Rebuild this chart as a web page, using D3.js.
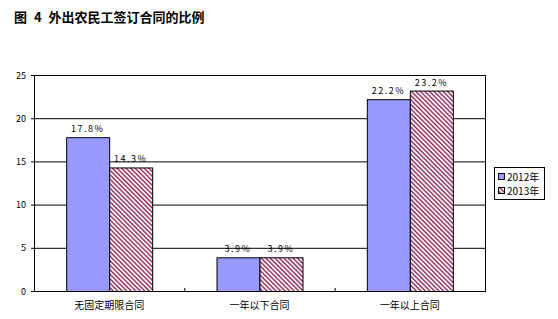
<!DOCTYPE html>
<html lang="zh">
<head>
<meta charset="UTF-8">
<title>图 4 外出农民工签订合同的比例</title>
<style>
  body { margin: 0; background: #fff; }
  svg text { font-family: "Noto Sans CJK SC", "DejaVu Sans", sans-serif; }
</style>
</head>
<body>
<svg id="chart" width="558" height="319"></svg>
<script src="https://d3js.org/d3.v7.min.js"></script>
<script>
// chart data
var categories = ["无固定期限合同", "一年以下合同", "一年以上合同"];
var seriesNames = ["2012年", "2013年"];
var values2012 = [17.8, 3.9, 22.2];
var values2013 = [14.3, 3.9, 23.2];
var yTicks = [0, 5, 10, 15, 20, 25];

var svg = d3.select("#chart");

// hatch pattern for 2013
var defs = svg.append("defs");
var pat = defs.append("pattern")
    .attr("id", "hatch")
    .attr("patternUnits", "userSpaceOnUse")
    .attr("width", 3.2).attr("height", 3.2)
    .attr("patternTransform", "rotate(45)");
pat.append("rect").attr("width", 3.2).attr("height", 3.2).attr("fill", "#fff");
pat.append("line").attr("x1", 0).attr("y1", 1).attr("x2", 3.2).attr("y2", 1)
    .attr("stroke", "#8b2252").attr("stroke-width", 1.4);

// title
svg.append("text")
    .attr("x", 14).attr("y", 22)
    .style("font-size", "13px").style("font-weight", "bold")
    .style("word-spacing", "4px")
    .text("图 4 外出农民工签订合同的比例");

var plotL = 34, plotR = 485, plotT = 75, plotB = 291;

var x = d3.scaleBand().domain(categories).range([plotL, plotR]);
var y = d3.scaleLinear().domain([0, 25]).range([plotB, plotT]);

// grid lines
svg.selectAll(".grid").data(yTicks).enter().append("line")
    .attr("x1", plotL - 3).attr("x2", plotR)
    .attr("y1", d => y(d) + 0.5).attr("y2", d => y(d) + 0.5)
    .attr("stroke", "#000").attr("stroke-width", 1);

// y labels
svg.selectAll(".ylab").data(yTicks).enter().append("text")
    .attr("x", 26).attr("y", d => y(d) + 3.5)
    .attr("text-anchor", "end")
    .style("font-size", "9px")
    .text(d => d);

// bars
var barW = 43;
function drawSeries(vals, fill, idx) {
    svg.selectAll(".bar" + idx).data(vals).enter().append("rect")
        .attr("x", (d, i) => x(categories[i]) + x.bandwidth() / 2 - barW + idx * barW + 0.5)
        .attr("y", d => y(d) + 0.5)
        .attr("width", barW)
        .attr("height", d => plotB - y(d))
        .attr("fill", fill)
        .attr("stroke", "#000").attr("stroke-width", 1);
    svg.selectAll(".lab" + idx).data(vals).enter().append("text")
        .attr("x", (d, i) => x(categories[i]) + x.bandwidth() / 2 - barW / 2 + idx * barW)
        .attr("y", d => y(d) - 5)
        .attr("text-anchor", "middle")
        .style("font-size", "9px").style("letter-spacing", "1.5px")
        .text(d => d.toFixed(1) + "%");
}
drawSeries(values2012, "#9999ff", 0);
drawSeries(values2013, "url(#hatch)", 1);

// plot frame
svg.append("rect")
    .attr("x", plotL + 0.5).attr("y", plotT + 0.5)
    .attr("width", plotR - plotL).attr("height", plotB - plotT)
    .attr("fill", "none").attr("stroke", "#000");

// category ticks
svg.selectAll(".ctick").data(categories.slice(1)).enter().append("line")
    .attr("x1", d => x(d) + 0.5).attr("x2", d => x(d) + 0.5)
    .attr("y1", plotB - 3).attr("y2", plotB)
    .attr("stroke", "#000");

// category labels
svg.selectAll(".clab").data(categories).enter().append("text")
    .attr("x", d => x(d) + x.bandwidth() / 2)
    .attr("y", 309)
    .attr("text-anchor", "middle")
    .style("font-size", "10px")
    .text(d => d);

// legend
var lg = svg.append("g").attr("transform", "translate(494,167)");
lg.append("rect").attr("x", 0.5).attr("y", 0.5).attr("width", 50).attr("height", 32)
    .attr("fill", "#fff").attr("stroke", "#000");
var fills = ["#9999ff", "url(#hatch)"];
seriesNames.forEach(function (name, i) {
    lg.append("rect").attr("x", 4.5).attr("y", 6.5 + i * 14).attr("width", 6).attr("height", 6)
        .attr("fill", fills[i]).attr("stroke", "#000");
    lg.append("text").attr("x", 13).attr("y", 14 + i * 14)
        .style("font-size", "10px").text(name);
});
</script>
</body>
</html>
